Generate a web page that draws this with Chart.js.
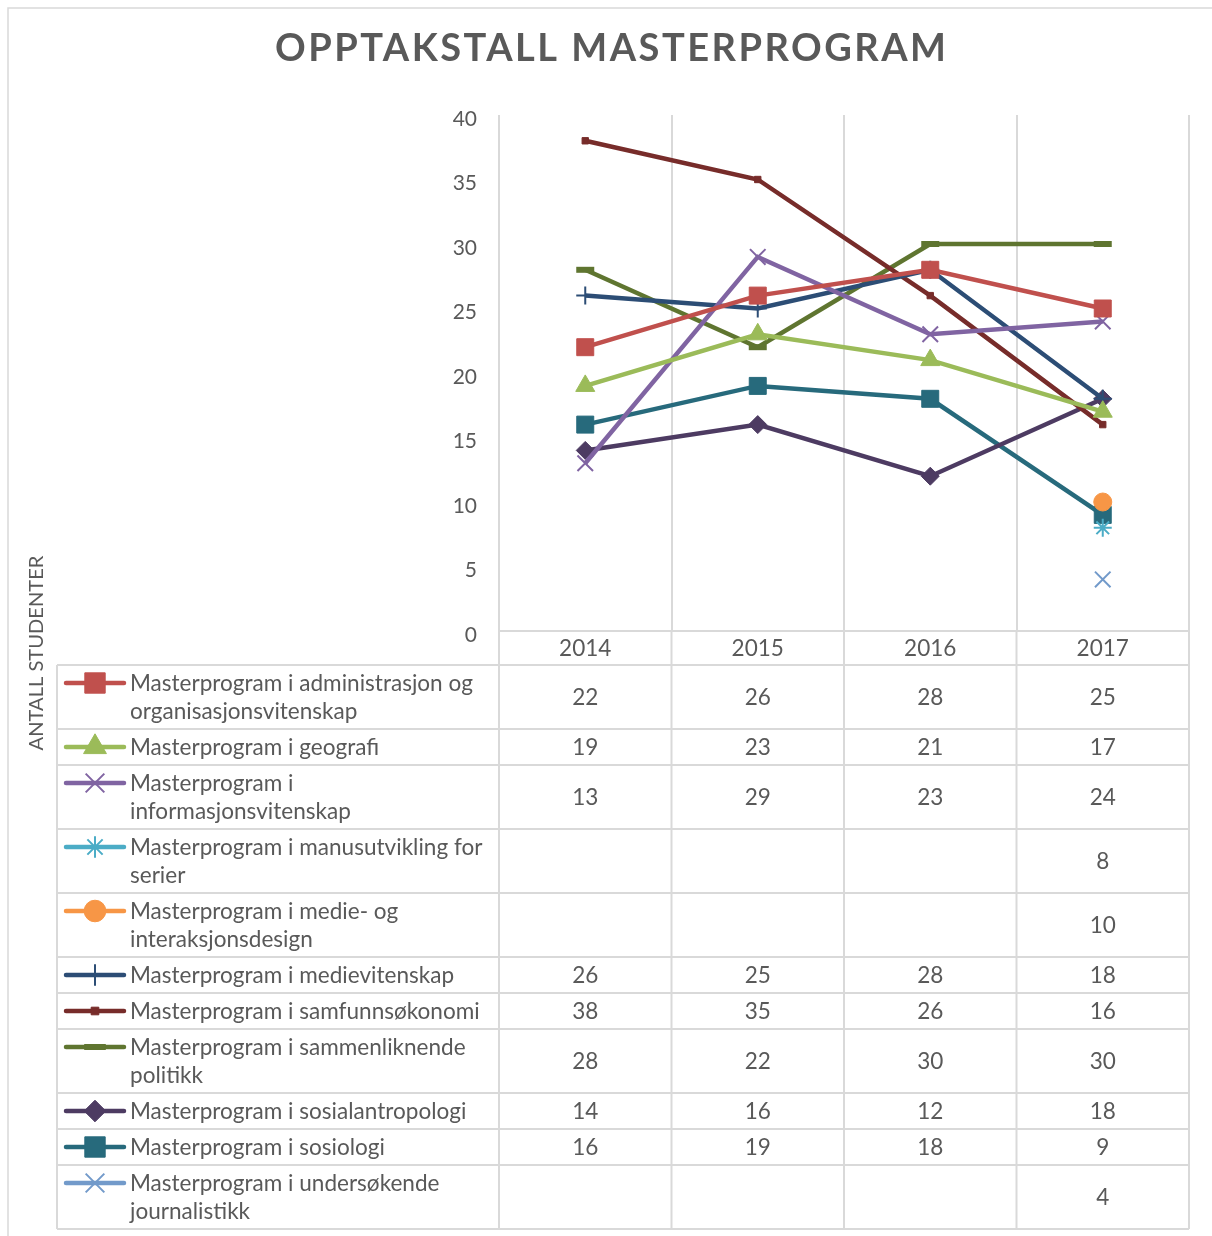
<!DOCTYPE html>
<html>
<head>
<meta charset="utf-8">
<script src="https://cdn.jsdelivr.net/npm/chart.js"></script>
<style>
  html, body { margin: 0; padding: 0; background: #fff; }
</style>
</head>
<body>
<canvas id="myChart" width="1212" height="1236"></canvas>
<script>
// Data
var years = ['2014', '2015', '2016', '2017'];
var programs = [
    'Masterprogram i administrasjon og organisasjonsvitenskap',
    'Masterprogram i geografi',
    'Masterprogram i informasjonsvitenskap',
    'Masterprogram i manusutvikling for serier',
    'Masterprogram i medie- og interaksjonsdesign',
    'Masterprogram i medievitenskap',
    'Masterprogram i samfunnsøkonomi',
    'Masterprogram i sammenliknende politikk',
    'Masterprogram i sosialantropologi',
    'Masterprogram i sosiologi',
    'Masterprogram i undersøkende journalistikk'
];
var administrasjon = [22, 26, 28, 25];
var geografi = [19, 23, 21, 17];
var informasjon = [13, 29, 23, 24];
var manusutvikling = [null, null, null, 8];
var medieDesign = [null, null, null, 10];
var medievitenskap = [26, 25, 28, 18];
var samfunnsokonomi = [38, 35, 26, 16];
var sammenliknende = [28, 22, 30, 30];
var sosialantropologi = [14, 16, 12, 18];
var sosiologi = [16, 19, 18, 9];
var undersokende = [null, null, null, 4];
var yTicks = { min: 0, max: 40, step: 5 };

var FONT = 'Lato, "Open Sans", sans-serif';
var TEXT = '#595959';
var GRID = '#D9D9D9';

function ds(i, data, color, style, radius, bw) {
    return {
        label: programs[i],
        data: data,
        borderColor: color,
        backgroundColor: color,
        borderWidth: 4.5,
        pointStyle: style,
        pointRadius: radius,
        pointHoverRadius: radius,
        pointBorderColor: color,
        pointBackgroundColor: color,
        pointBorderWidth: bw,
        tension: 0
    };
}

var datasets = [
    ds(0, administrasjon, '#C0504D', 'rect', 12, 1),
    ds(1, geografi, '#9BBB59', 'triangle', 11, 1),
    ds(2, informasjon, '#8064A2', 'crossRot', 11, 2),
    ds(3, manusutvikling, '#4BACC6', 'star', 9, 2),
    ds(4, medieDesign, '#F79646', 'circle', 9, 1),
    ds(5, medievitenskap, '#2C4D75', 'cross', 9, 2),
    ds(6, samfunnsokonomi, '#772C2A', 'rect', 4.5, 1),
    ds(7, sammenliknende, '#5F7530', 'line', 9, 6),
    ds(8, sosialantropologi, '#4D3B62', 'rectRot', 9, 1),
    ds(9, sosiologi, '#276A7C', 'rect', 12, 1),
    ds(10, undersokende, '#729ACA', 'crossRot', 11, 2)
];

// draws title, axis title, frame and the data table under the plot
var tablePlugin = {
    id: 'dataTable',
    afterDraw: function (chart) {
        var ctx = chart.ctx;
        var xs = chart.scales.x;
        var area = chart.chartArea;
        ctx.save();

        // outer frame
        ctx.strokeStyle = GRID;
        ctx.lineWidth = 1.5;
        ctx.strokeRect(8, 8, 1230, 1260);

        // title
        var title = 'OPPTAKSTALL MASTERPROGRAM';
        ctx.font = 'bold 38px ' + FONT;
        ctx.letterSpacing = '0px';
        var tw = ctx.measureText(title).width;
        var sp = (671 - tw) / (title.length - 1);
        ctx.letterSpacing = sp + 'px';
        ctx.fillStyle = TEXT;
        ctx.textAlign = 'left';
        ctx.textBaseline = 'middle';
        ctx.fillText(title, 275, 49);
        ctx.letterSpacing = '0px';

        // y axis title
        var yt = 'ANTALL STUDENTER';
        ctx.font = '19px ' + FONT;
        var ys = 19 * 195 / ctx.measureText(yt).width;
        ctx.font = ys + 'px ' + FONT;
        ctx.save();
        ctx.translate(36, 653);
        ctx.rotate(-Math.PI / 2);
        ctx.textAlign = 'center';
        ctx.fillText(yt, 0, 0);
        ctx.restore();

        // table text size chosen to match the reference widths
        ctx.font = '20px ' + FONT;
        var fs = 20 * 350 / ctx.measureText('Masterprogram i samfunnsøkonomi').width;
        var f = fs + 'px ' + FONT;
        ctx.font = f;

        function wrap(text, maxW) {
            var words = text.split(' ');
            var lines = [];
            var cur = '';
            words.forEach(function (w) {
                var t = cur ? cur + ' ' + w : w;
                if (ctx.measureText(t).width > maxW && cur) {
                    lines.push(cur);
                    cur = w;
                } else {
                    cur = t;
                }
            });
            lines.push(cur);
            return lines;
        }

        var colW = (area.right - area.left) / years.length;
        var tableLeft = 57;
        var top = area.bottom;
        var headH = 34;

        // header row
        ctx.textAlign = 'center';
        ctx.textBaseline = 'middle';
        ctx.fillStyle = TEXT;
        years.forEach(function (y, i) {
            ctx.fillText(y, xs.getPixelForValue(i), top + headH / 2 + 1);
        });

        var rows = [];
        var yy = top + headH;
        programs.forEach(function (p, i) {
            var lines = wrap(p, 356);
            var h = lines.length > 1 ? 64 : 36;
            rows.push({ top: yy, h: h, lines: lines });
            yy += h;
        });
        var bottom = yy;

        // grid of the table
        ctx.strokeStyle = GRID;
        ctx.lineWidth = 2;
        ctx.beginPath();
        ctx.moveTo(area.left, top);
        ctx.lineTo(area.right, top);
        rows.forEach(function (r) {
            ctx.moveTo(tableLeft, r.top);
            ctx.lineTo(area.right, r.top);
        });
        ctx.moveTo(tableLeft, bottom);
        ctx.lineTo(area.right, bottom);
        ctx.moveTo(tableLeft, top + headH);
        ctx.lineTo(tableLeft, bottom);
        for (var c = 0; c <= years.length; c++) {
            var x = area.left + c * colW;
            ctx.moveTo(x, top);
            ctx.lineTo(x, bottom);
        }
        ctx.stroke();

        // rows: legend key, name, values
        rows.forEach(function (r, i) {
            var d = chart.data.datasets[i];
            var ky = r.top + 18;
            ctx.strokeStyle = d.borderColor;
            ctx.fillStyle = d.backgroundColor;
            ctx.lineWidth = 4.5;
            ctx.lineCap = 'round';
            ctx.beginPath();
            ctx.moveTo(66, ky);
            ctx.lineTo(124, ky);
            ctx.stroke();
            ctx.lineCap = 'butt';
            ctx.lineWidth = d.pointBorderWidth;
            Chart.helpers.drawPoint(ctx, {
                pointStyle: d.pointStyle,
                radius: d.pointRadius * 1.2,
                borderWidth: d.pointBorderWidth,
                rotation: 0
            }, 95, ky);

            ctx.font = f;
            ctx.fillStyle = TEXT;
            ctx.textAlign = 'left';
            ctx.textBaseline = 'middle';
            r.lines.forEach(function (l, k) {
                ctx.fillText(l, 130, r.top + 19 + k * 28);
            });

            ctx.textAlign = 'center';
            d.data.forEach(function (v, j) {
                if (v === null) return;
                ctx.fillText(String(v), xs.getPixelForValue(j), r.top + r.h / 2 + 1);
            });
        });

        ctx.restore();
    }
};

var ctx = document.getElementById('myChart').getContext('2d');
var myChart = new Chart(ctx, {
    type: 'line',
    data: { labels: years, datasets: datasets },
    options: {
        responsive: false,
        animation: false,
        layout: { padding: { left: 0, right: 23, top: 115, bottom: 605 } },
        plugins: {
            legend: { display: false },
            title: { display: false },
            tooltip: { enabled: false }
        },
        scales: {
            x: {
                offset: true,
                grid: { offset: true, color: GRID, lineWidth: 2, drawTicks: false },
                border: { display: false },
                ticks: { display: false },
                afterFit: function (s) { s.height = 0; }
            },
            y: {
                min: yTicks.min,
                max: yTicks.max,
                ticks: { stepSize: yTicks.step, color: TEXT, font: { size: 21, family: FONT }, padding: 14, labelOffset: 4 },
                grid: { display: false },
                border: { display: false },
                afterFit: function (s) { s.width = 499; }
            }
        }
    },
    plugins: [tablePlugin]
});
</script>
</body>
</html>
